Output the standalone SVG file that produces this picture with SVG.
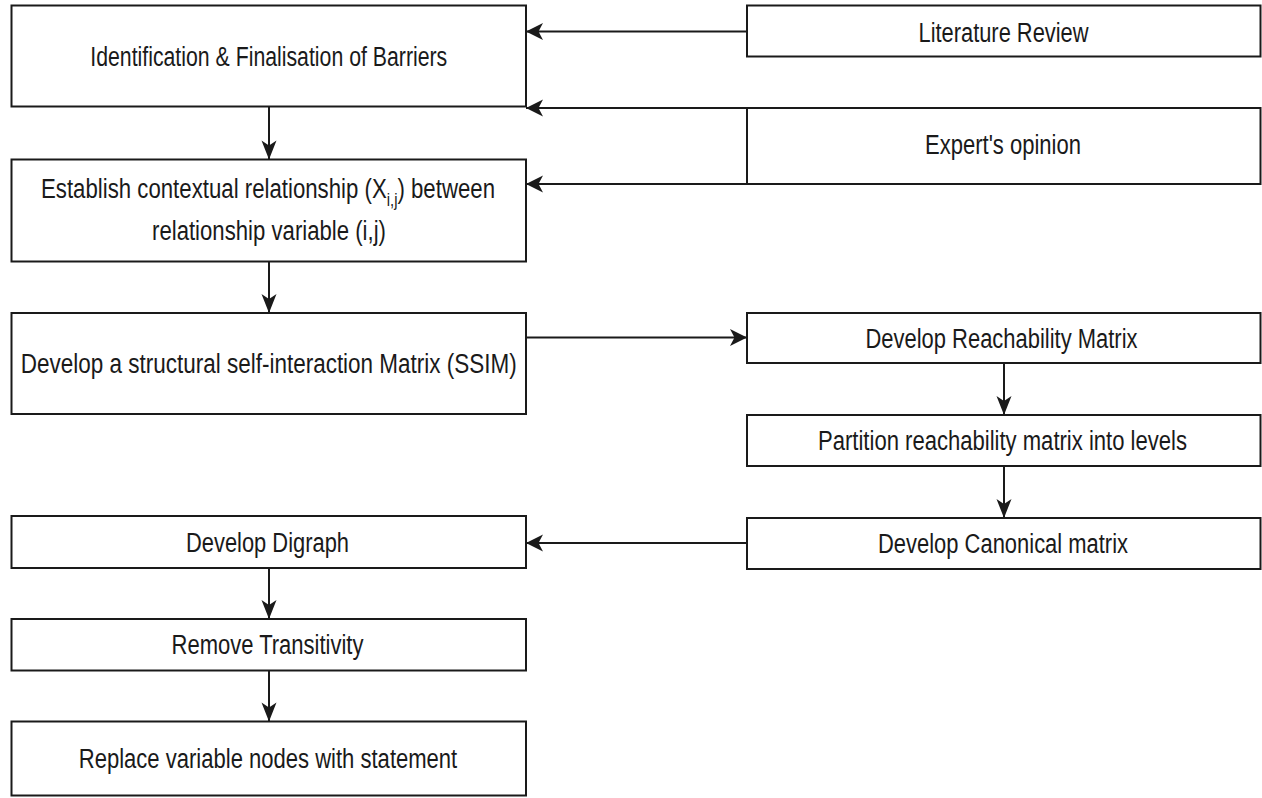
<svg xmlns="http://www.w3.org/2000/svg" width="1262" height="798" viewBox="0 0 1262 798">
<style>
.box{fill:#ffffff;stroke:#1a1a1a;stroke-width:2}
.t{font-family:"Liberation Sans",Arial,sans-serif;font-size:27px;fill:#1a1a1a;text-anchor:middle}
.ts{font-family:"Liberation Sans",Arial,sans-serif;font-size:27px;fill:#1a1a1a}
.sub{font-size:18px}
.c{fill:none;stroke:#1a1a1a;stroke-width:2}
.ch{marker-end:url(#ah)}
.cv{marker-end:url(#av)}
</style>
<defs>
<marker id="ah" markerUnits="userSpaceOnUse" viewBox="-20 -10 22 20" markerWidth="22" markerHeight="20" refX="0" refY="0" orient="auto" overflow="visible">
<path d="M0,0 L-17,-8.5 L-12.5,0 L-17,8.5 Z" fill="#1a1a1a"/>
</marker>
<marker id="av" markerUnits="userSpaceOnUse" viewBox="-20 -10 22 20" markerWidth="22" markerHeight="20" refX="0" refY="0" orient="auto" overflow="visible">
<path d="M0,0 L-19,-7.5 L-14,0 L-19,7.5 Z" fill="#1a1a1a"/>
</marker>
</defs>
<rect width="1262" height="798" fill="#ffffff"/>
<g id="connectors">
<path class="c ch" d="M747,31.5 L526,31.5"/>
<path class="c ch" d="M1260.5,108 L526,108"/>
<path class="c ch" d="M747,184 L526,184"/>
<path class="c cv" d="M269,106.5 L269,159.5"/>
<path class="c cv" d="M269,261.5 L269,313"/>
<path class="c ch" d="M526,337.5 L747,337.5"/>
<path class="c cv" d="M1004,363 L1004,415"/>
<path class="c cv" d="M1004,466 L1004,518"/>
<path class="c ch" d="M747,543 L526,543"/>
<path class="c cv" d="M269,568 L269,619"/>
<path class="c cv" d="M269,670.5 L269,721.5"/>
</g>
<g id="n-identification">
<rect class="box" x="11.5" y="5.5" width="514.5" height="101"/>
<text class="t" x="268.75" y="66" textLength="357" lengthAdjust="spacingAndGlyphs">Identification &amp; Finalisation of Barriers</text>
</g>
<g id="n-literature">
<rect class="box" x="747" y="5.5" width="513.5" height="51"/>
<text class="t" x="1003.5" y="41.5" textLength="170" lengthAdjust="spacingAndGlyphs">Literature Review</text>
</g>
<g id="n-expert">
<rect class="box" x="747" y="108" width="513.5" height="76"/>
<text class="t" x="1003" y="154" textLength="156" lengthAdjust="spacingAndGlyphs">Expert's opinion</text>
</g>
<g id="n-establish">
<rect class="box" x="11.5" y="159.5" width="514.5" height="102"/>
<text class="ts" x="41" y="198" textLength="454" lengthAdjust="spacingAndGlyphs">Establish contextual relationship (X<tspan class="sub" dy="8">i,j</tspan><tspan dy="-8">) between</tspan></text>
<text class="t" x="269" y="240" textLength="234" lengthAdjust="spacingAndGlyphs">relationship variable (i,j)</text>
</g>
<g id="n-ssim">
<rect class="box" x="11.5" y="313" width="514.5" height="101"/>
<text class="t" x="268.75" y="373" textLength="496" lengthAdjust="spacingAndGlyphs">Develop a structural self-interaction Matrix (SSIM)</text>
</g>
<g id="n-reachability">
<rect class="box" x="747" y="313" width="513.5" height="50"/>
<text class="t" x="1001.5" y="347.5" textLength="272" lengthAdjust="spacingAndGlyphs">Develop Reachability Matrix</text>
</g>
<g id="n-partition">
<rect class="box" x="747" y="415" width="513.5" height="51"/>
<text class="t" x="1002.5" y="450" textLength="369" lengthAdjust="spacingAndGlyphs">Partition reachability matrix into levels</text>
</g>
<g id="n-canonical">
<rect class="box" x="747" y="518" width="513.5" height="51"/>
<text class="t" x="1003" y="552.5" textLength="250" lengthAdjust="spacingAndGlyphs">Develop Canonical matrix</text>
</g>
<g id="n-digraph">
<rect class="box" x="11.5" y="516" width="514.5" height="52"/>
<text class="t" x="267.5" y="551.5" textLength="163" lengthAdjust="spacingAndGlyphs">Develop Digraph</text>
</g>
<g id="n-transitivity">
<rect class="box" x="11.5" y="619" width="514.5" height="51.5"/>
<text class="t" x="267.5" y="653.5" textLength="192" lengthAdjust="spacingAndGlyphs">Remove Transitivity</text>
</g>
<g id="n-replace">
<rect class="box" x="11.5" y="721.5" width="514.5" height="74"/>
<text class="t" x="268" y="767.5" textLength="378.5" lengthAdjust="spacingAndGlyphs">Replace variable nodes with statement</text>
</g>
</svg>
